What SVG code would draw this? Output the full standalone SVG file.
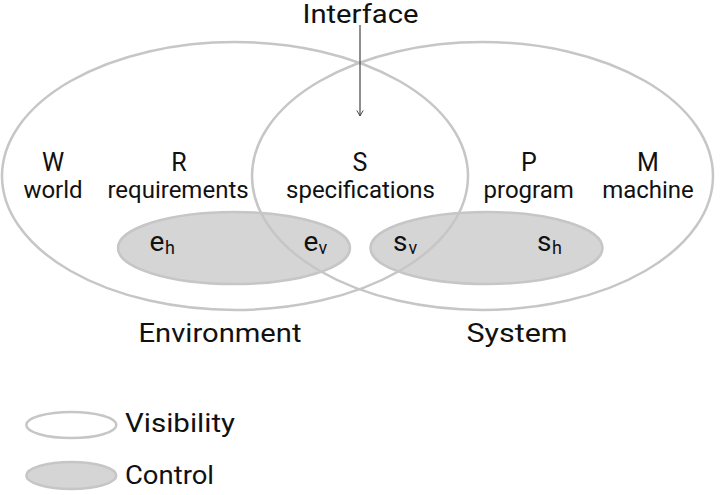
<svg xmlns="http://www.w3.org/2000/svg" width="720" height="495" viewBox="0 0 720 495">
  <style>
    .vis { fill: none; stroke: #c6c6c6; stroke-width: 2.5; }
    .ctl { fill: #d5d5d5; stroke: #c6c6c6; stroke-width: 2.5; }
    .t { font-family: Roboto, "Liberation Sans", sans-serif; fill: #111; }
    .cap { font-size: 25px; text-anchor: middle; }
    .word { font-size: 24px; text-anchor: middle; }
    .big { font-size: 26px; }
    .var { font-size: 28px; }
    .sub { font-size: 18px; }
  </style>
  <defs>
    <marker id="arrow" viewBox="0 0 10 10" refX="8" refY="5" markerWidth="8" markerHeight="8" markerUnits="userSpaceOnUse" orient="auto">
      <path d="M1,1 L8,5 L1,9" fill="none" stroke="#444" stroke-width="1.2"/>
    </marker>
  </defs>
  <rect width="720" height="495" fill="#ffffff"/>

  <g id="control-env">
    <ellipse class="ctl" cx="234" cy="248" rx="116" ry="36"/>
  </g>
  <g id="control-sys">
    <ellipse class="ctl" cx="486.5" cy="248" rx="116" ry="36"/>
  </g>

  <g id="environment">
    <ellipse class="vis" cx="235" cy="176" rx="233" ry="134"/>
    <text class="t big" x="220" y="341.5" text-anchor="middle" textLength="163" lengthAdjust="spacingAndGlyphs">Environment</text>
  </g>
  <g id="system">
    <ellipse class="vis" cx="482.5" cy="176" rx="230.5" ry="134"/>
    <text class="t big" x="517" y="341.5" text-anchor="middle" textLength="101" lengthAdjust="spacingAndGlyphs">System</text>
  </g>

  <g id="interface">
    <text class="t big" x="360.5" y="23" text-anchor="middle" textLength="116" lengthAdjust="spacingAndGlyphs">Interface</text>
  </g>

  <g id="connectors">
    <line x1="360" y1="25" x2="360" y2="116" stroke="#444" stroke-width="1.2" marker-end="url(#arrow)"/>
  </g>

  <g id="world">
    <text class="t cap" x="53" y="171">W</text>
    <text class="t word" x="53" y="198">world</text>
  </g>
  <g id="requirements">
    <text class="t cap" x="179" y="171">R</text>
    <text class="t word" x="178" y="198">requirements</text>
  </g>
  <g id="specifications">
    <text class="t cap" x="360" y="171">S</text>
    <text class="t word" x="360.5" y="198">specifications</text>
  </g>
  <g id="program">
    <text class="t cap" x="529" y="171">P</text>
    <text class="t word" x="528.7" y="198">program</text>
  </g>
  <g id="machine">
    <text class="t cap" x="648" y="171">M</text>
    <text class="t word" x="648" y="198">machine</text>
  </g>

  <g id="eh">
    <text class="t"><tspan class="var" x="149.5" y="250.5">e</tspan><tspan class="sub" x="165" y="254">h</tspan></text>
  </g>
  <g id="ev">
    <text class="t"><tspan class="var" x="303.5" y="250.5">e</tspan><tspan class="sub" x="318.5" y="254">v</tspan></text>
  </g>
  <g id="sv">
    <text class="t"><tspan class="var" x="393" y="250.5">s</tspan><tspan class="sub" x="408.5" y="254">v</tspan></text>
  </g>
  <g id="sh">
    <text class="t"><tspan class="var" x="537" y="250.5">s</tspan><tspan class="sub" x="552" y="254">h</tspan></text>
  </g>

  <g id="legend-visibility">
    <ellipse class="vis" cx="71.3" cy="425" rx="45" ry="13"/>
    <text class="t big" x="125" y="431.5" textLength="110" lengthAdjust="spacingAndGlyphs">Visibility</text>
  </g>
  <g id="legend-control">
    <ellipse class="ctl" cx="71.3" cy="475.5" rx="45" ry="13.5"/>
    <text class="t big" x="125" y="484" textLength="89" lengthAdjust="spacingAndGlyphs">Control</text>
  </g>
</svg>
